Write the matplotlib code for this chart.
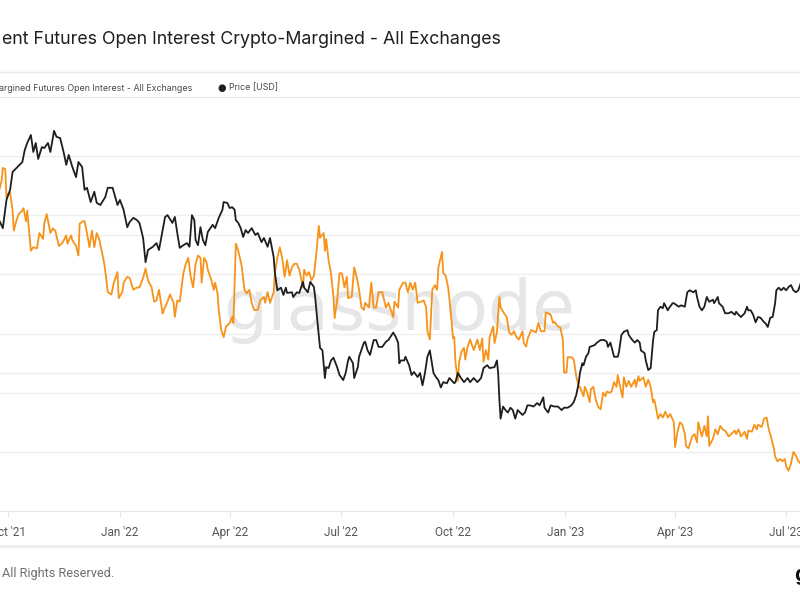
import pandas as pd
import matplotlib
matplotlib.use("Agg")
import matplotlib.pyplot as plt
import matplotlib.dates as mdates
from matplotlib.lines import Line2D
from matplotlib.transforms import blended_transform_factory

# day offsets below are counted from 1 Oct 2021 (the "Oct '21" tick)
START = pd.Timestamp("2021-10-01")

# percent of futures open interest that is crypto-margined (orange, left axis)
oi_days = [
    -7, -5, -4, -2, -1, 0, 2, 4, 5, 7, 9, 12, 13, 15, 16, 19, 21, 24, 26, 29,
    30, 32, 35, 37, 39, 42, 45, 48, 49, 52, 53, 56, 58, 59, 62, 63, 65, 67, 69, 71,
    73, 75, 77, 79, 81, 82, 85, 87, 90, 91, 94, 95, 98, 100, 103, 106, 108, 111, 113, 115,
    118, 120, 122, 124, 127, 128, 131, 133, 136, 137, 139, 141, 144, 146, 148, 150, 152, 154, 156,
    158, 159, 161, 163, 164, 167, 169, 170, 172, 173, 175, 177, 179, 182, 184, 185, 187, 189, 192, 194,
    196, 198, 200, 202, 205, 207, 210, 211, 213, 215, 218, 219, 221, 223, 225, 227, 229, 231, 233, 235,
    237, 239, 242, 243, 245, 247, 249, 251, 253, 255, 256, 259, 260, 261, 263, 265, 267, 268, 270, 272,
    274, 276, 278, 279, 282, 284, 286, 288, 290, 292, 293, 296, 298, 300, 302, 304, 307, 310, 312, 316,
    317, 320, 321,
    324, 326, 328, 330, 332, 334, 335, 336, 339, 341, 343, 344, 346, 348, 350, 352, 353, 356, 357, 359,
    361, 363, 365, 366, 367, 369, 370, 372, 374, 375, 377, 379, 382, 384, 385, 387, 389, 390, 392, 394,
    395, 398, 399, 401, 403, 404, 407, 409, 411, 413, 415, 417, 419, 422, 423, 425, 426, 429, 431, 433,
    435, 437, 440, 441, 443, 445, 447, 448, 451, 453, 455, 456, 458, 459, 462, 464, 466, 468, 469, 472,
    473, 475, 477, 478, 480, 482, 484, 486,
    488, 490, 491, 493, 495, 497, 499, 500, 502, 504, 505, 507, 509, 511, 514, 515, 517, 518, 521, 523,
    525, 527, 529, 530, 532, 533, 535, 537, 539, 541, 543, 546, 547, 549, 551, 553, 555, 556, 558, 561,
    563, 565, 566, 569, 571, 573, 574, 575, 578, 580, 582, 584, 586, 588, 591, 593, 596, 597, 599, 601,
    604, 606, 607, 610, 612, 614, 615, 618, 620, 622, 624, 625, 628, 629, 631, 633, 635, 637, 638, 640,
    642, 644, 646, 648, 650,
]
oi_pct = [
    42.1, 42.9, 44.0, 43.9, 41.5, 41.8, 41.9, 40.4, 38.7, 39.5, 40.1, 40.4, 40.6, 39.5, 40.4, 37.0, 37.3, 37.2, 38.5, 38.0,
    39.3, 40.1, 38.5, 38.9, 38.7, 37.4, 37.7, 38.3, 37.6, 38.3, 37.9, 37.4, 36.6, 39.3, 39.5, 39.5, 38.5, 37.3, 38.7, 37.3,
    38.5, 38.0, 37.0, 36.0, 34.5, 33.5, 33.3, 34.3, 35.2, 33.0, 33.5, 34.3, 34.8, 34.7, 33.7, 33.9, 33.9, 34.7, 35.5, 34.5,
    33.9, 32.7, 32.8, 33.7, 31.7, 32.0, 32.7, 33.3, 32.6, 31.4, 32.8, 32.7, 35.1, 35.9, 36.4, 34.8, 33.9, 35.9, 36.6,
    36.4, 34.3, 36.4, 36.0, 35.4, 34.5, 33.7, 34.3, 33.4, 32.0, 30.3, 29.7, 30.6, 30.9, 31.4, 30.9, 37.6, 37.0, 35.6, 33.7,
    33.4, 33.7, 32.6, 32.0, 32.0, 32.8, 33.1, 32.6, 33.5, 32.6, 33.5, 35.1, 36.4, 37.3, 36.4, 34.8, 36.2, 34.9, 35.6, 35.9,
    35.9, 35.4, 33.9, 35.4, 34.9, 35.2, 34.5, 34.9, 36.8, 39.1, 38.1, 38.5, 37.0, 38.0, 36.2, 35.1, 33.1, 31.3, 32.8, 35.1,
    35.1, 33.9, 34.8, 33.0, 33.1, 35.6, 34.8, 33.7, 32.2, 32.0, 32.6, 32.2, 34.3, 32.2, 32.2, 33.5, 33.5, 32.2, 32.6, 31.4,
    32.7, 32.2, 33.7,
    34.3, 34.3, 33.5, 34.3, 33.7, 34.3, 33.5, 32.6, 32.7, 32.8, 32.2, 30.2, 29.5, 33.7, 34.1, 33.7, 35.6, 36.9, 35.1, 34.9,
    33.9, 32.0, 29.6, 29.7, 27.6, 26.0, 27.6, 28.5, 28.8, 27.8, 28.9, 29.5, 28.6, 29.2, 29.5, 28.6, 29.6, 27.6, 28.6, 27.8,
    29.7, 30.6, 29.2, 30.1, 33.1, 32.2, 31.7, 31.4, 30.1, 29.9, 30.2, 29.7, 29.5, 30.2, 29.2, 28.9, 29.5, 30.3, 30.2, 30.1,
    30.9, 30.2, 30.2, 31.8, 31.7, 31.6, 30.9, 31.0, 30.6, 30.5, 29.5, 26.7, 26.7, 28.0, 28.0, 27.8, 26.4, 25.5, 25.5, 24.7,
    25.5, 25.0, 24.2, 25.3, 25.5, 24.4, 23.8, 23.6,
    25.0, 24.7, 25.1, 25.0, 25.1, 25.9, 25.5, 26.5, 25.5, 24.6, 26.3, 25.5, 26.0, 25.5, 26.1, 25.5, 26.4, 26.0, 26.3, 25.5,
    26.1, 25.5, 24.2, 24.4, 23.4, 22.8, 23.2, 22.9, 23.4, 22.9, 23.2, 22.5, 20.4, 21.7, 22.5, 22.3, 21.5, 20.5, 20.3, 21.3,
    21.5, 20.8, 22.5, 21.3, 22.2, 21.3, 23.0, 20.5, 21.1, 21.9, 21.5, 22.2, 21.9, 21.8, 21.3, 21.5, 21.8, 21.5, 21.9, 21.3,
    21.7, 21.1, 21.8, 21.7, 22.3, 21.9, 22.3, 22.1, 22.8, 22.9, 21.8, 21.5, 20.3, 19.6, 19.2, 19.4, 19.2, 19.4, 18.8, 18.4,
    19.0, 20.0, 19.7, 19.2, 19.0,
]

# BTC price in thousand USD (black, right log axis)
price_days = [
    -7, -4, -1, 2, 4, 8, 12, 14, 16, 19, 21, 23, 25, 28, 30, 33, 35, 38, 40, 43,
    46, 48, 50, 53, 56, 58, 61, 63, 65, 68, 71, 73, 76, 77, 80, 82, 86, 90, 92, 95,
    98, 100, 103, 106, 108, 111, 113, 115, 119, 122, 124, 127, 129, 131, 135, 137, 139, 141, 144, 147,
    149, 151, 153, 154, 156,
    158, 160, 162, 164, 168, 170, 173, 176, 177, 180, 182, 184, 186, 187, 189, 191, 193, 195, 197, 200,
    203, 205, 208, 210, 213, 215, 218, 219, 221, 224, 226, 228, 229, 233, 234, 237, 239, 242, 243, 246,
    248, 251, 252, 254, 256, 258, 260, 261, 263, 265, 267, 270, 272, 275, 277, 279, 280, 283, 284, 287,
    288, 292, 293, 295, 297, 300, 302, 304, 307, 310, 312, 316, 318, 320, 321,
    322, 325, 326, 329, 331, 333, 336, 338, 340, 342, 344, 346, 349, 351, 353, 355, 357, 360, 362, 366,
    367, 369, 371, 374, 377, 379, 382, 385, 388, 390, 393, 395, 399, 401, 402, 403, 404, 406, 408, 410,
    412, 414, 416, 418, 420, 422, 424, 426, 428, 431, 434, 436, 439, 440, 443, 445, 448, 451, 454, 456,
    459, 462, 464, 466, 468, 469, 471, 472, 474, 476, 477, 481, 483, 486,
    489, 491, 492, 494, 497, 500, 501, 503, 505, 508, 509, 512, 514, 516, 518, 519, 522, 523, 525, 527,
    529, 530, 532, 533, 535, 537, 538, 541, 542, 545, 546, 550, 552, 555, 557, 559, 562, 564, 565, 567,
    569, 571, 573, 575, 578, 579, 582, 583, 586, 588, 591, 593, 596, 597, 599, 601, 604, 606, 607, 609,
    611, 613, 615, 617, 620, 621, 623, 625, 627, 629, 630, 632, 634, 636, 638, 640, 642, 644, 646, 648,
    650,
]
price_k = [
    43.1, 41.4, 47.7, 50.2, 54.9, 56.3, 57.7, 61.3, 63.5, 66.1, 60.7, 63.5, 58.6, 62.2, 61.9, 63.5, 60.7, 67.5, 65.5, 65.1,
    60.4, 56.9, 59.8, 56.3, 53.5, 57.7, 56.3, 50.2, 50.7, 47.2, 49.7, 47.0, 46.5, 47.0, 48.4, 50.7, 50.7, 46.5, 47.7, 45.4,
    41.6, 42.7, 43.6, 43.1, 42.5, 39.4, 34.9, 37.1, 37.7, 38.4, 37.1, 41.0, 43.8, 44.2, 42.5, 43.8, 40.4, 37.5, 38.0, 38.4,
    37.7, 44.2, 43.1, 39.0, 38.0,
    41.6, 39.0, 38.0, 40.6, 42.1, 41.4, 43.6, 45.4, 47.2, 47.0, 45.8, 46.0, 45.4, 43.1, 42.5, 41.4, 39.6, 41.0, 40.4, 41.4,
    40.0, 40.4, 38.6, 39.4, 37.7, 39.4, 35.8, 33.1, 30.3, 30.7, 29.6, 30.7, 29.9, 30.0, 29.3, 30.0, 29.9, 31.6, 30.7, 30.0,
    31.6, 30.8, 29.3, 25.7, 22.7, 22.4, 19.5, 20.6, 20.5, 21.3, 21.6, 20.6, 19.8, 19.3, 20.0, 21.3, 21.7, 21.0, 19.5, 20.6,
    21.7, 23.3, 23.4, 22.4, 21.9, 23.6, 23.6, 22.8, 22.8, 23.4, 23.6, 24.5, 24.0, 23.3, 21.0,
    21.3, 21.3, 21.7, 20.8, 19.8, 20.1, 19.6, 20.0, 18.8, 20.0, 21.7, 22.4, 20.0, 19.6, 19.3, 18.6, 19.1, 19.0, 19.5, 19.0,
    19.1, 20.0, 19.6, 19.1, 19.5, 19.1, 19.5, 19.1, 19.5, 20.5, 20.8, 20.5, 20.6, 21.3, 20.0, 17.5, 15.9, 16.9, 16.6, 16.4,
    16.8, 16.6, 15.9, 16.6, 16.4, 16.2, 16.4, 17.0, 17.0, 16.9, 17.2, 17.0, 17.7, 16.8, 16.4, 17.0, 16.9, 16.9, 16.6, 16.8,
    16.8, 17.0, 17.3, 17.9, 19.0, 20.0, 21.0, 20.8, 21.7, 22.1, 22.8, 23.0, 23.3, 23.6,
    23.6, 23.4, 22.8, 23.3, 21.7, 21.7, 22.2, 24.2, 24.6, 24.8, 24.2, 23.6, 23.3, 23.6, 23.3, 22.4, 22.1, 21.3, 20.3, 20.5,
    23.6, 24.6, 24.8, 27.4, 27.9, 27.7, 28.4, 27.4, 27.7, 28.4, 28.4, 27.9, 28.1, 27.9, 30.0, 30.3, 30.0, 30.3, 29.3, 27.9,
    27.4, 27.9, 29.3, 28.6, 28.9, 28.4, 29.3, 28.4, 27.9, 27.0, 27.0, 27.2, 26.8, 27.2, 26.8, 26.5, 27.0, 27.9, 27.4, 27.4,
    26.8, 25.8, 26.5, 26.4, 25.8, 25.7, 25.2, 26.4, 26.5, 28.4, 30.3, 30.7, 30.3, 30.7, 30.3, 30.8, 31.1, 30.3, 30.0, 30.3,
    31.4,
]

pct_grid = [20, 25, 30, 35, 40, 45]
price_grid = [20000, 40000]

title = "ent Futures Open Interest Crypto-Margined - All Exchanges"
legend_oi = "argined Futures Open Interest - All Exchanges"
legend_price = "Price [USD]"

oi_dates = START + pd.to_timedelta(oi_days, unit="D")
price_dates = START + pd.to_timedelta(price_days, unit="D")
price_usd = [p * 1000 for p in price_k]

ORANGE = "#f7931a"
BLACK = "#1e1e1e"
GRID = "#efefef"
FONT = ["Inter", "DejaVu Sans"]

fig = plt.figure(figsize=(8, 6), dpi=100)
fig.patch.set_facecolor("white")

# plot area spans the whole width (the screenshot is cropped on both sides)
ax = fig.add_axes([0, 89 / 600, 1, 414 / 600])
ax2 = ax.twinx()

ax.set_xlim(START - pd.Timedelta(days=6.3), START + pd.Timedelta(days=649.4))
ax.set_ylim(15, 50)
ax2.set_yscale("log")
ax2.set_ylim(10000, 80000)

# gridlines of both axes, kept underneath the lines
for v in pct_grid:
    ax.axhline(v, color=GRID, lw=1, zorder=0)
tr = blended_transform_factory(ax.transAxes, ax2.transData)
for v in price_grid:
    ax.add_line(Line2D([0, 1], [v, v], transform=tr, color=GRID, lw=1, zorder=0))

# watermark
ax.text(0.4985, 0.4855, "glassnode", transform=ax.transAxes, ha="center", va="center",
        fontsize=50, color="#e6e6e6", zorder=1)

ax.plot(oi_dates, oi_pct, color=ORANGE, lw=1.3, zorder=3)
ax2.plot(price_dates, price_usd, color=BLACK, lw=1.3, zorder=3)

for a in (ax, ax2):
    for s in ("left", "right"):
        a.spines[s].set_visible(False)
ax2.spines["top"].set_visible(False)
ax2.spines["bottom"].set_visible(False)
ax.spines["top"].set_color("#e9e9e9")
ax.spines["bottom"].set_color("#e4e4e4")
ax.tick_params(axis="y", left=False, labelleft=False)
ax2.tick_params(axis="y", which="both", right=False, labelright=False, left=False, labelleft=False)

ax.xaxis.set_major_locator(mdates.MonthLocator(bymonth=[1, 4, 7, 10]))
ax.xaxis.set_major_formatter(mdates.DateFormatter("%b '%y"))
ax.tick_params(axis="x", length=4, color="#e4e4e4", labelcolor="#555555", labelsize=8.5, pad=7)
for lab in ax.get_xticklabels():
    lab.set_family(["Roboto", "DejaVu Sans"])

# header, legend row and footer
fig.text(2 / 800, 1 - 40 / 600, title, ha="left", va="center", fontsize=12.8,
         color="#1f1f1f", family=FONT)
fig.add_artist(Line2D([0, 1], [1 - 72 / 600] * 2, color="#e9e9e9", lw=1))
fig.text(-1 / 800, 1 - 88 / 600, legend_oi, ha="left", va="center", fontsize=6.4,
         color="#4a4a4a", family=FONT)
fig.text(222 / 800, 1 - 88 / 600, "\u25cf", ha="center", va="center", fontsize=7,
         color=BLACK, family=["DejaVu Sans"])
fig.text(229 / 800, 1 - 88 / 600, legend_price, ha="left", va="center", fontsize=6.4,
         color="#4a4a4a", family=FONT)

fig.add_artist(Line2D([0, 1], [1 - 546 / 600] * 2, color="#ececec", lw=2))
fig.text(2 / 800, 1 - 573 / 600, "All Rights Reserved.", ha="left", va="center",
         fontsize=9.2, color="#6e6e6e", family=["Roboto", "DejaVu Sans"])
fig.text(794 / 800, 1 - 575 / 600, "g", ha="left", va="center", fontsize=15,
         fontweight="bold", color="#111111", family=FONT)

fig.savefig("out.png", dpi=100, facecolor="white")
